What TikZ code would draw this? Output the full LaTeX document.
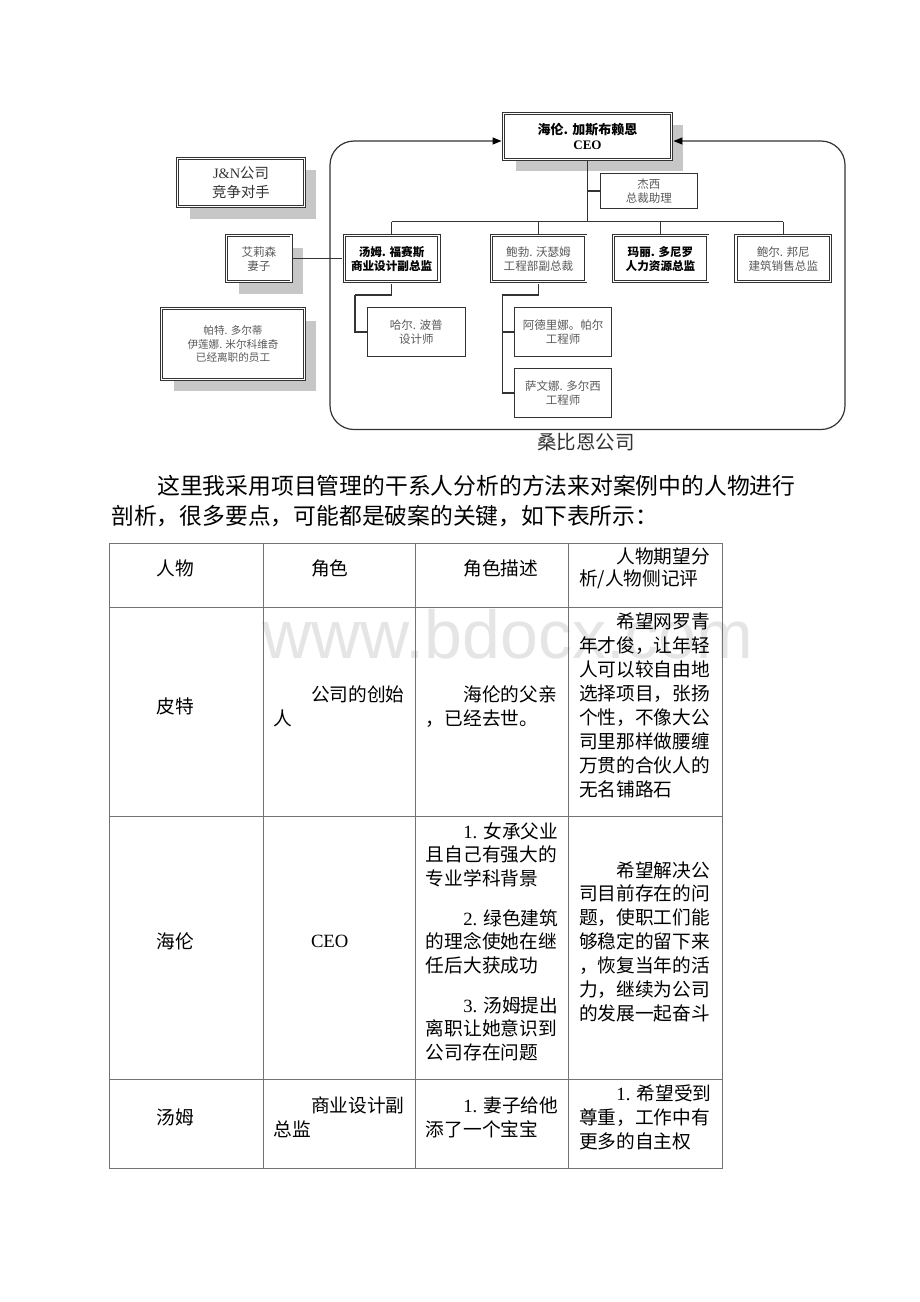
\documentclass[tikz,border=0pt]{standalone}
\usepackage{fontspec}
\setmainfont{Liberation Serif}
\newfontfamily\cjk{Noto Sans CJK SC}
\newfontfamily\wmfont{Liberation Sans}
\usetikzlibrary{arrows.meta,shadows}
\tikzset{
  dbox/.style={draw=black!80, line width=0.9pt, double=white, double distance=1.4pt,
    fill=white, inner sep=0pt, align=center, text=black!65,
    font=\cjk\fontsize{11.6}{14}\selectfont},
  boldtxt/.style={text=black, font=\cjk\bfseries\fontsize{11.6}{14}\selectfont},
  sbox/.style={draw=black!80, line width=1pt, fill=white, inner sep=0pt, align=center,
    text=black!65, font=\cjk\fontsize{11.5}{14.6}\selectfont},
  shd/.style={drop shadow={shadow xshift=12pt, shadow yshift=-12pt, fill=black!22, opacity=1}},
  conn/.style={draw=black!80, line width=1.2pt},
  tline/.style={draw=black!55, line width=0.9pt},
  tcell/.style={anchor=west, align=left, inner sep=0pt, text=black,
    font=\cjk\fontsize{18.7}{24}\selectfont},
  para/.style={anchor=west, inner sep=0pt, text=black, font=\cjk\fontsize{22.8}{28}\selectfont},
  headtip/.style={{Triangle[length=9pt,width=7pt,fill=black,color=black]}-{Triangle[length=9pt,width=7pt,fill=black,color=black]}},
}
\begin{document}
\begin{tikzpicture}[x=1pt,y=-1pt]
\useasboundingbox (0,0) rectangle (920,1302);
\fill[white] (0,0) rectangle (920,1302);

% watermark
\node[anchor=base west, inner sep=0pt, text=black!10, font=\wmfont\fontsize{68}{68}\selectfont] (wm) at (262,658) {www.bdocx.com};

% ---------------- org chart ----------------
\node[dbox, shd, minimum width=167.8pt, minimum height=46.1pt, text=black,
      font=\cjk\bfseries\fontsize{13}{15.6}\selectfont] (ceo) at (587.5,136.3)
      {海伦. 加斯布赖恩\\{\rmfamily\bfseries CEO}};
\node[sbox, minimum width=97.5pt, minimum height=35.6pt] (jes) at (648.75,191) {杰西\\总裁助理};

\node[dbox, boldtxt, minimum width=94.6pt, minimum height=46.1pt] (tom) at (391.6,258.7) {汤姆. 福赛斯\\商业设计副总监};
\node[dbox, minimum width=94.6pt, minimum height=46.1pt] (bob) at (538.5,258.7) {鲍勃. 沃瑟姆\\工程部副总裁};
\node[dbox, boldtxt, minimum width=94.6pt, minimum height=46.1pt] (mary) at (660.5,258.7) {玛丽. 多尼罗\\人力资源总监};
\node[dbox, minimum width=94.6pt, minimum height=46.1pt] (bon) at (783.3,258.7) {鲍尔. 邦尼\\建筑销售总监};

\node[sbox, minimum width=97.6pt, minimum height=48.4pt] (hal) at (416.3,332) {哈尔. 波普\\设计师};
\node[sbox, minimum width=97.6pt, minimum height=48.4pt] (ade) at (563,332) {阿德里娜。帕尔\\工程师};
\node[sbox, minimum width=97.6pt, minimum height=48.4pt] (sav) at (563,393) {萨文娜. 多尔西\\工程师};

\node[dbox, shd, minimum width=126.8pt, minimum height=48.4pt, text=black!80,
      font=\cjk\fontsize{14.4}{18.4}\selectfont] (jn) at (241,182.5) {{\rmfamily J\&N}公司\\竞争对手};
\node[dbox, shd, minimum width=64.5pt, minimum height=46.1pt] (ali) at (258.9,258.7) {艾莉森\\妻子};
\node[dbox, shd, minimum width=142.8pt, minimum height=70.8pt,
      font=\cjk\fontsize{10.6}{13.9}\selectfont] (pat) at (233,344) {帕特. 多尔蒂\\伊莲娜. 米尔科维奇\\已经离职的员工};

% connectors
\coordinate (busY) at (0,221.7);
\draw[conn, shorten <=1.6pt] (ceo.south) -- (ceo.south |- busY);
\draw[conn] (jes.west) -- (jes.west -| ceo.south);
\draw[conn] (tom.north |- busY) -- (bon.north |- busY);
\foreach \n in {tom,bob,mary,bon}{
  \draw[conn, shorten >=1.6pt] (\n.north |- busY) -- (\n.north);
}
\coordinate (tE) at (355,295);
\coordinate (bE) at (502.3,295);
\draw[conn, shorten <=1.6pt] (tom.south) |- (tE);
\draw[conn] (tE) |- (hal.west);
\draw[conn, shorten <=1.6pt] (bob.south) |- (bE);
\draw[conn] (bE) |- (sav.west);
\draw[conn] (bE |- ade.west) -- (ade.west);
\draw[conn, shorten <=1.6pt, shorten >=1.6pt] (ali.east) -- (tom.west);

% company outline with arrows to the CEO
\path (ceo.west) ++(-1.6,4.7) coordinate (aL);
\path (ceo.east) ++(1.6,4.7) coordinate (aR);
\draw[conn, rounded corners=24pt, headtip]
  (aL) -- (330,141) -- (330,429.5) -- (845,429.5) -- (845,141) -- (aR);
\node[inner sep=0pt, text=black!80, font=\cjk\fontsize{19.5}{20}\selectfont] (lbl) at (586,442) {桑比恩公司};

% ---------------- paragraph ----------------
\node[para] (p1) at (157,486) {这里我采用项目管理的干系人分析的方法来对案例中的人物进行};
\node[para] (p2) at (111,516) {剖析，很多要点，可能都是破案的关键，如下表所示：};

% ---------------- table ----------------
\draw[tline] (109,543.3) rectangle (722,1168.3);
\draw[tline] (109,607) -- (722,607);
\draw[tline] (109,816) -- (722,816);
\draw[tline] (109,1079.3) -- (722,1079.3);
\draw[tline] (263.4,543.3) -- (263.4,1168.3);
\draw[tline] (415.7,543.3) -- (415.7,1168.3);
\draw[tline] (568.8,543.3) -- (568.8,1168.3);

\node[tcell] (h1) at (119,568) {\hspace*{2em}人物};
\node[tcell] (h2) at (273.4,568) {\hspace*{2em}角色};
\node[tcell] (h3) at (425.7,568) {\hspace*{2em}角色描述};
\node[tcell, font=\cjk\fontsize{18.7}{22.3}\selectfont] (h4) at (578.8,568) {\hspace*{2em}人物期望分\\析/人物侧记评};

\node[tcell] (a1) at (119,706.7) {\hspace*{2em}皮特};
\node[tcell] (a2) at (273.4,706.5) {\hspace*{2em}公司的创始\\人};
\node[tcell] (a3) at (425.7,706.5) {\hspace*{2em}海伦的父亲\\，已经去世。};
\node[tcell] (a4) at (578.8,705) {\hspace*{2em}希望网罗青\\年才俊，让年轻\\人可以较自由地\\选择项目，张扬\\个性，不像大公\\司里那样做腰缠\\万贯的合伙人的\\无名铺路石};

\node[tcell] (b1) at (119,941.7) {\hspace*{2em}海伦};
\node[tcell] (b2) at (273.4,941.7) {\hspace*{2em}{\rmfamily CEO}};
\node[tcell, font=\cjk\fontsize{18.7}{23.5}\selectfont] (b3) at (425.7,941.4)
  {\hspace*{2em}{\rmfamily 1. }女承父业\\且自己有强大的\\专业学科背景\\[16.5pt]\hspace*{2em}{\rmfamily 2. }绿色建筑\\的理念使她在继\\任后大获成功\\[16.5pt]\hspace*{2em}{\rmfamily 3. }汤姆提出\\离职让她意识到\\公司存在问题};
\node[tcell, font=\cjk\fontsize{18.7}{23.9}\selectfont] (b4) at (578.8,941.7)
  {\hspace*{2em}希望解决公\\司目前存在的问\\题，使职工们能\\够稳定的留下来\\，恢复当年的活\\力，继续为公司\\的发展一起奋斗};

\node[tcell] (c1) at (119,1117) {\hspace*{2em}汤姆};
\node[tcell] (c2) at (273.4,1117) {\hspace*{2em}商业设计副\\总监};
\node[tcell] (c3) at (425.7,1117) {\hspace*{2em}{\rmfamily 1. }妻子给他\\添了一个宝宝};
\node[tcell] (c4) at (578.8,1117) {\hspace*{2em}{\rmfamily 1. }希望受到\\尊重，工作中有\\更多的自主权};
\end{tikzpicture}
\end{document}
